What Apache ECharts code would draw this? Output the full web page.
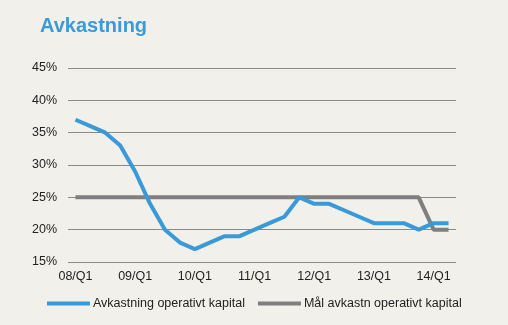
<!DOCTYPE html>
<html>
<head>
<meta charset="utf-8">
<script src="https://cdn.jsdelivr.net/npm/echarts@6/dist/echarts.min.js"></script>
<style>
html,body{margin:0;padding:0;background:#f2f0eb;}
#c{width:508px;height:325px;}
</style>
</head>
<body>
<div id="c"></div>
<script>
const categories = ["08/Q1","08/Q2","08/Q3","08/Q4","09/Q1","09/Q2","09/Q3","09/Q4",
  "10/Q1","10/Q2","10/Q3","10/Q4","11/Q1","11/Q2","11/Q3","11/Q4",
  "12/Q1","12/Q2","12/Q3","12/Q4","13/Q1","13/Q2","13/Q3","13/Q4","14/Q1","14/Q2"];
const avkastning = [37,36,35,33,29,24,20,18,17,18,19,19,20,21,22,25,24,24,23,22,21,21,21,20,21,21];
const malAvkastning = [25,25,25,25,25,25,25,25,25,25,25,25,25,25,25,25,25,25,25,25,25,25,25,25,20,20];
const yTicks = {min:15, max:45, interval:5};

const chart = echarts.init(document.getElementById('c'), null, {renderer:'canvas'});
chart.setOption({
  backgroundColor:'#f2f0eb',
  animation:false,
  title:{text:'Avkastning', left:35, top:11,
    textStyle:{color:'#3d9ad6', fontSize:20, fontWeight:'bold', fontFamily:'Liberation Sans'}},
  grid:{left:68, right:52, top:68, bottom:63},
  legend:{
    bottom:10, left:42, itemWidth:43, itemHeight:4, itemGap:13,
    icon:'rect',
    textStyle:{color:'#222', fontSize:12.5, fontFamily:'Liberation Sans', padding:[0,0,0,-2]},
    data:['Avkastning operativt kapital','Mål avkastn operativt kapital']
  },
  xAxis:{
    type:'category', data:categories, boundaryGap:true,
    axisLine:{show:false}, axisTick:{show:false},
    axisLabel:{interval:3, color:'#222', fontSize:12.5, fontFamily:'Liberation Sans', margin:8},
  },
  yAxis:{
    type:'value', min:yTicks.min, max:yTicks.max, interval:yTicks.interval,
    axisLine:{show:false}, axisTick:{show:false},
    axisLabel:{formatter:'{value}%', color:'#222', fontSize:12.5, fontFamily:'Liberation Sans', margin:11},
    splitLine:{lineStyle:{color:'#8a8a8a', width:1}}
  },
  series:[
    {name:'Mål avkastn operativt kapital', type:'line', data:malAvkastning, symbol:'none',
      lineStyle:{color:'#7f7f7f', width:4}, itemStyle:{color:'#7f7f7f'}, z:2},
    {name:'Avkastning operativt kapital', type:'line', data:avkastning, symbol:'none',
      lineStyle:{color:'#3a9ad8', width:4}, itemStyle:{color:'#3a9ad8'}, z:3}
  ]
});
</script>
</body>
</html>
